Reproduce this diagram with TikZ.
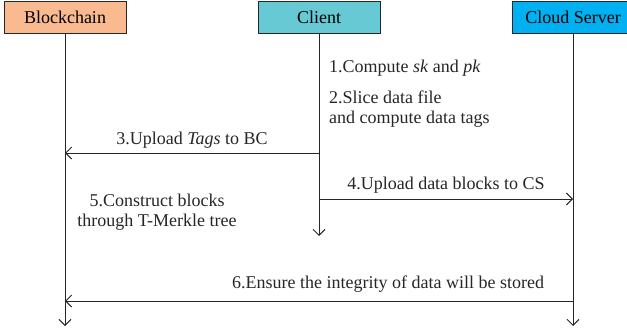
\documentclass[tikz,border=0pt]{standalone}
\usepackage{fontspec}
\setmainfont{Liberation Serif}
\usetikzlibrary{arrows.meta}
\definecolor{bcfill}{HTML}{F9BA8F}
\definecolor{clfill}{HTML}{66C9D4}
\definecolor{csfill}{HTML}{00B0F0}
\begin{document}
\begin{tikzpicture}[x=1pt,y=-1pt,
  every node/.style={font=\fontsize{18}{20.5}\selectfont},
  actor/.style={draw=black!85, line width=1pt, minimum width=122pt, minimum height=32pt, inner sep=0pt},
  life/.style={draw=black!85, line width=1pt, -{Straight Barb[length=6pt,width=12pt]}},
  msg/.style={draw=black!85, line width=1pt, -{Straight Barb[length=6pt,width=12pt]}},
  lbl/.style={inner sep=0pt, text=black!85},
]
\useasboundingbox (0,0) rectangle (627,332);
\clip (0,0) rectangle (627,332);
% actors
\node[actor, fill=bcfill] (bc) at (65,17) {Blockchain};
\node[actor, fill=clfill] (cl) at (319,17) {Client};
\node[actor, fill=csfill] (cs) at (573,17) {Cloud Server};
% lifeline ends
\coordinate (bcend) at (65,326);
\coordinate (clend) at (319,236);
\coordinate (csend) at (573,326);
\draw[life] (bc.south) -- (bcend);
\draw[life] (cl.south) -- (clend);
\draw[life] (cs.south) -- (csend);
% message points
\coordinate (m3a) at (319,153);
\coordinate (m3b) at (65,153);
\coordinate (m4a) at (319,199);
\coordinate (m4b) at (573,199);
\coordinate (m6a) at (573,301);
\coordinate (m6b) at (65,301);
\draw[msg] (m3a) -- (m3b);
\draw[msg] (m4a) -- (m4b);
\draw[msg] (m6a) -- (m6b);
% labels
\node[lbl, anchor=base] (t3) at (192,144) {3.Upload \textit{Tags} to BC};
\node[lbl, anchor=base] (t4) at (446,189) {4.Upload data blocks to CS};
\node[lbl, anchor=base] (t6) at (388,288) {6.Ensure the integrity of data will be stored};
\node[lbl, anchor=base west] (t1) at (329,72) {1.Compute \textit{sk} and \textit{pk}};
\node[lbl, anchor=north west, align=left] (t2) at (329,90.5) {2.Slice data file\\and compute data tags};
\node[lbl, anchor=north, align=center] (t5) at (157,193.5) {5.Construct blocks\\through T-Merkle tree};
\end{tikzpicture}
\end{document}
